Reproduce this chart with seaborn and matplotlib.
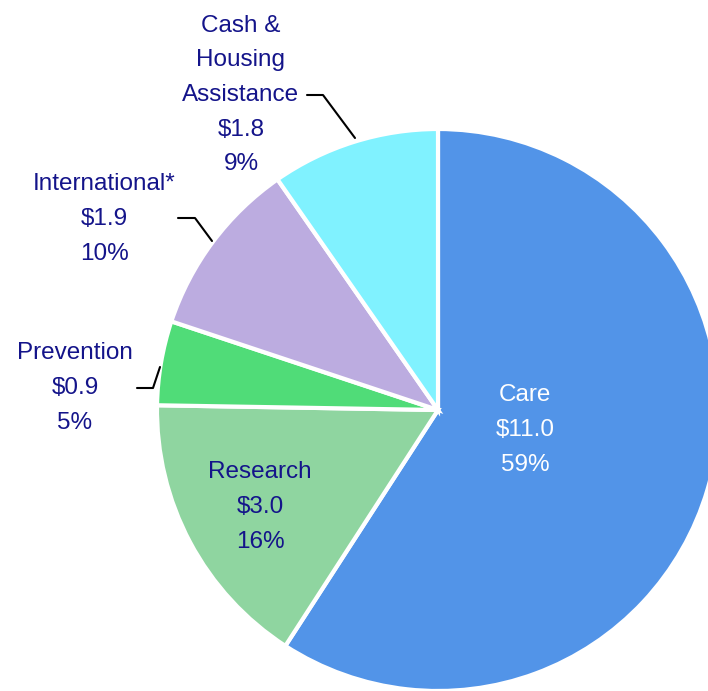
import numpy as np
import matplotlib
matplotlib.use("Agg")
import matplotlib.pyplot as plt
import seaborn as sns

# --- data ---
categories = ["Care", "Research", "Prevention", "International*", "Cash &\nHousing\nAssistance"]
amounts = [11.0, 3.0, 0.9, 1.9, 1.8]
shares = ["59%", "16%", "5%", "10%", "9%"]
colors = ["#5294E8", "#8FD5A0", "#50DC78", "#BCACE0", "#80F2FF"]

sns.set_theme(style="white")
plt.rcParams["font.family"] = ["Liberation Sans", "DejaVu Sans"]

W, H = 708, 691
fig = plt.figure(figsize=(W / 100, H / 100), dpi=100)
ax = fig.add_axes([0, 0, 1, 1])

cx, cy, r = 438, H - 410, 281
ax.pie(amounts, colors=colors, startangle=90, counterclock=False,
       center=(cx, cy), radius=r, frame=True,
       wedgeprops=dict(edgecolor="white", linewidth=3))
ax.set_xlim(0, W)
ax.set_ylim(0, H)
ax.set_aspect("equal")
ax.axis("off")

navy = "#14148A"
labels = [f"{c}\n${a:.1f}\n{s}" for c, a, s in zip(categories, amounts, shares)]
# label centres (pixel coords from top)
pos = [(525, 430), (260, 507), (75, 388), (104, 219), (241, 95)]
tcol = ["white", navy, navy, navy, navy]
for lab, (x, y), c in zip(labels, pos, tcol):
    ax.text(x, H - y, lab, ha="center", va="center", fontsize=17.5,
            color=c, linespacing=1.74)

# leader lines
leaders = [
    [(307, 95), (323, 95), (355, 138)],
    [(178, 218), (195, 218), (212, 241)],
    [(137, 388), (153, 388), (160, 367)],
]
for pts in leaders:
    xs = [p[0] for p in pts]
    ys = [H - p[1] for p in pts]
    ax.plot(xs, ys, color="black", lw=1.5)

fig.savefig("out.png", dpi=100, facecolor="white")
